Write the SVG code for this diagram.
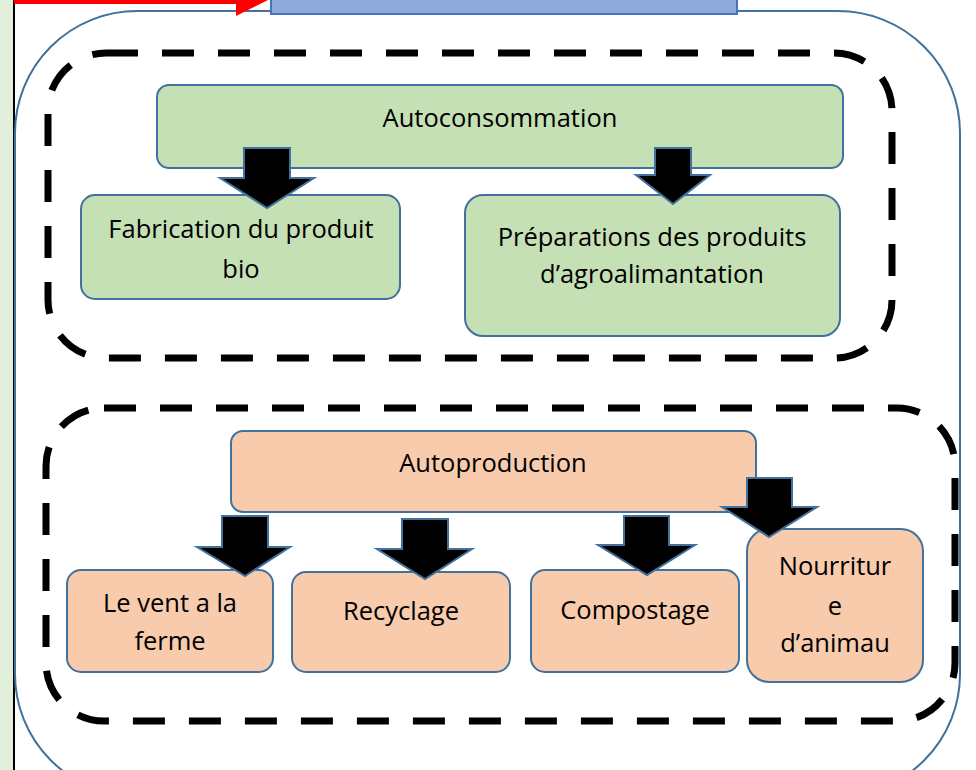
<svg xmlns="http://www.w3.org/2000/svg" width="976" height="770" viewBox="0 0 976 770">
<defs>
<style>
.t{font-family:"Open Sans","Liberation Sans",Arial,sans-serif;font-size:25.5px;fill:#000;text-anchor:middle}
.g{fill:#c5e0b4;stroke:#41719c;stroke-width:2}
.o{fill:#f8cbad;stroke:#41719c;stroke-width:2}
.d{fill:none;stroke:#000;stroke-width:7;stroke-dasharray:32 24}
.a{fill:#000;stroke:#41719c;stroke-width:2;stroke-linejoin:miter}
</style>
</defs>
<rect x="0" y="0" width="976" height="770" fill="#fff"/>
<g id="frame">
<rect x="0" y="0" width="13" height="770" fill="#e2efda"/>
<line x1="14" y1="0" x2="14" y2="770" stroke="#000" stroke-width="2"/>
<rect x="15" y="11" width="945" height="785" rx="122" ry="122" fill="#fff" stroke="#41719c" stroke-width="2"/>
<rect x="14" y="0" width="224" height="4" fill="#ff0000"/>
<polygon points="236,0 268,0 236,16" fill="#ff0000"/>
<rect x="271" y="-4" width="466" height="18" fill="#8faadc" stroke="#4472c4" stroke-width="2"/>
</g>
<g id="groups">
<rect class="d" x="48" y="53" width="844" height="305" rx="58" ry="58"/>
<rect class="d" x="46" y="408" width="909" height="313" rx="58" ry="58"/>
</g>
<g id="n-autoconsommation">
<rect class="g" x="157" y="85" width="686" height="83" rx="12"/>
<text class="t" x="500" y="127">Autoconsommation</text>
</g>
<g id="n-fabrication">
<rect class="g" x="81" y="195" width="319" height="104" rx="14"/>
<text class="t" x="241" y="238">Fabrication du produit</text>
<text class="t" x="241" y="278">bio</text>
</g>
<g id="n-preparations">
<rect class="g" x="465" y="195" width="375" height="141" rx="18"/>
<text class="t" x="652" y="246">Préparations des produits</text>
<text class="t" x="652" y="283">d’agroalimantation</text>
</g>
<g id="n-autoproduction">
<rect class="o" x="231" y="431" width="525" height="81" rx="12"/>
<text class="t" x="493" y="472">Autoproduction</text>
</g>
<g id="n-vent">
<rect class="o" x="67" y="570" width="206" height="102" rx="14"/>
<text class="t" x="170" y="612">Le vent a la</text>
<text class="t" x="170" y="650">ferme</text>
</g>
<g id="n-recyclage">
<rect class="o" x="292" y="572" width="218" height="100" rx="14"/>
<text class="t" x="401" y="620">Recyclage</text>
</g>
<g id="n-compostage">
<rect class="o" x="531" y="570" width="208" height="102" rx="14"/>
<text class="t" x="635" y="619">Compostage</text>
</g>
<g id="n-nourriture">
<rect class="o" x="747" y="529" width="176" height="153" rx="22"/>
<text class="t" x="835" y="575">Nourritur</text>
<text class="t" x="835" y="615">e</text>
<text class="t" x="835" y="652">d’animau</text>
</g>
<g id="connectors">
<polygon class="a" points="244,148 290,148 290,178 314,178 267,208 220,178 244,178"/>
<polygon class="a" points="655,148 691,148 691,175 710,175 673,204 636,175 655,175"/>
<polygon class="a" points="222,516 268,516 268,547 290,547 245,576 197,547 222,547"/>
<polygon class="a" points="402,519 448,519 448,549 472,549 425,579 377,549 402,549"/>
<polygon class="a" points="624,516 669,516 669,545 695,545 647,575 598,545 624,545"/>
<polygon class="a" points="747,478 792,478 792,507 817,507 769,537 722,507 747,507"/>
</g>
</svg>
